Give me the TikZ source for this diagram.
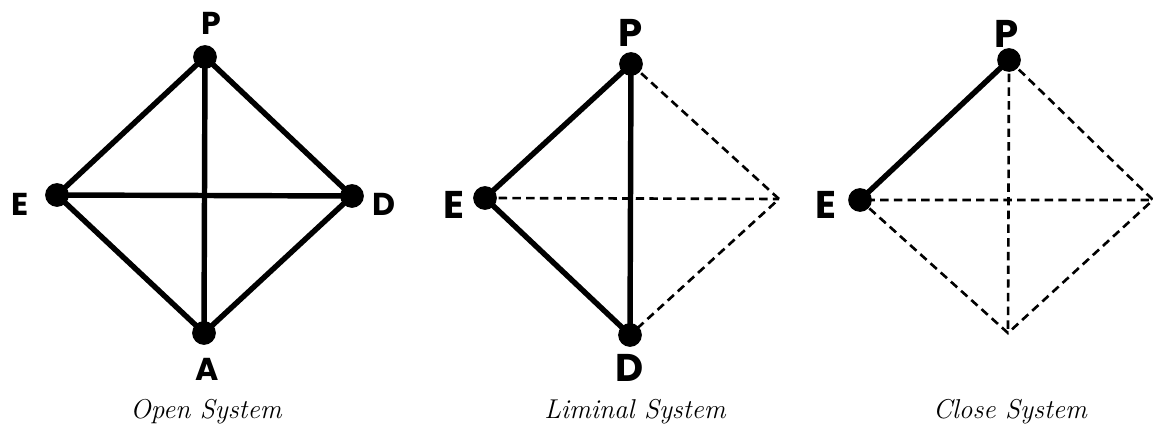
\documentclass[tikz,border=0pt]{standalone}
\usepackage{fontspec}
\newfontfamily\vertexfont{Poppins}

\begin{document}
\begin{tikzpicture}[
			x=0.02cm,
			y=-0.02cm,
			dot/.style={circle, fill=black, inner sep=0pt, minimum size=13.5pt},
			bigletter/.style={inner sep=0pt, font=\vertexfont\bfseries\fontsize{18}{18}\selectfont},
			letter/.style={inner sep=0pt, font=\vertexfont\bfseries\fontsize{22}{22}\selectfont},
			caption/.style={inner sep=0pt, font=\itshape\fontsize{15.5}{18}\selectfont},
			link/.style={line width=3.1pt},
			weaklink/.style={line width=1.5pt, dash pattern=on 4.8pt off 3pt}
		]
			\useasboundingbox (0,0) rectangle (1153,428);

			\node[dot] (openP) at (205,57) {};
			\node[dot] (openE) at (57,195) {};
			\node[dot] (openD) at (352,196) {};
			\node[dot] (openA) at (204,333) {};
			\node[bigletter] (openPlbl) at (211,23) {P};
			\node[bigletter] (openElbl) at (20,204) {E};
			\node[bigletter] (openDlbl) at (384,204) {D};
			\node[bigletter] (openAlbl) at (207,369) {A};
			\node[caption] (opencap) at (206,412) {Open System};

			\draw[link] (openP.center) -- (openE.center) -- (openA.center) -- (openD.center) -- cycle;
			\draw[link] (openP.center) -- (openA.center);
			\draw[link] (openE.center) -- (openD.center);

			\node[dot] (limP) at (631,64) {};
			\node[dot] (limE) at (485,198) {};
			\node[dot] (limD) at (630,335) {};
			\coordinate (limR) at (779,199);
			\node[letter] (limPlbl) at (631,33) {P};
			\node[letter] (limElbl) at (454,205) {E};
			\node[letter] (limDlbl) at (630,368) {D};
			\node[caption] (limcap) at (635,412) {Liminal System};

			\draw[weaklink] (limP.center) -- (limR) -- (limD.center);
			\draw[weaklink] (limE.center) -- (limR);
			\draw[link] (limD.center) -- (limE.center) -- (limP.center) -- cycle;

			\node[dot] (closeP) at (1009,60) {};
			\node[dot] (closeE) at (860,200) {};
			\coordinate (closeB) at (1008,333);
			\coordinate (closeR) at (1153,200);
			\node[letter] (closePlbl) at (1007,34) {P};
			\node[letter] (closeElbl) at (826,205) {E};
			\node[caption] (closecap) at (1010,412) {Close System};

			\draw[weaklink] (closeP.center) -- (closeR) -- (closeB) -- (closeE.center) -- (closeR);
			\draw[weaklink] (closeP.center) -- (closeB);
			\draw[link] (closeE.center) -- (closeP.center);
		\end{tikzpicture}
\end{document}
